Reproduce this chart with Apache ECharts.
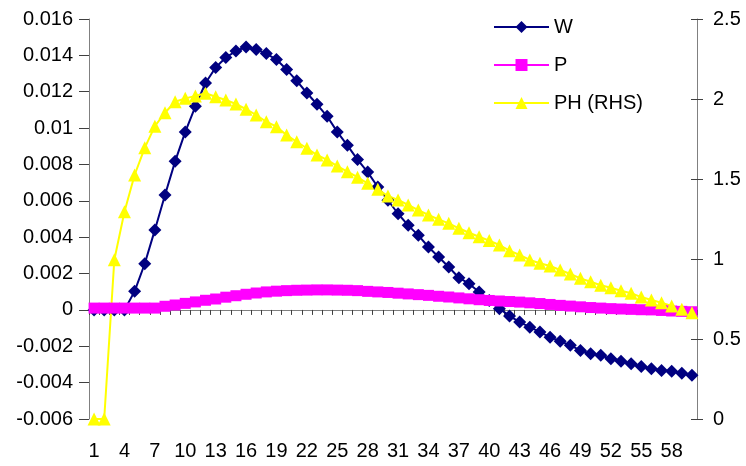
<!DOCTYPE html>
<html><head><meta charset="utf-8">
<script src="https://cdn.jsdelivr.net/npm/echarts@6/dist/echarts.min.js"></script>
<style>html,body{margin:0;padding:0;background:#fff}#c{width:746px;height:466px}</style>
</head><body><div id="c"></div>
<script>
const categories = ['1','2','3','4','5','6','7','8','9','10','11','12','13','14','15','16','17','18','19','20',
  '21','22','23','24','25','26','27','28','29','30','31','32','33','34','35','36','37','38','39','40',
  '41','42','43','44','45','46','47','48','49','50','51','52','53','54','55','56','57','58','59','60'];

const W = [0, 0, 0, 0, 0.00102, 0.00254, 0.0044, 0.00632, 0.00817, 0.00979,
  0.0112, 0.01248, 0.01333, 0.01388, 0.01424, 0.01446, 0.01432, 0.0141, 0.01377, 0.01322,
  0.0126, 0.01193, 0.01131, 0.01065, 0.00979, 0.00905, 0.00827, 0.00758, 0.00676, 0.00603,
  0.00529, 0.00465, 0.0041, 0.00346, 0.00291, 0.00236, 0.00177, 0.00144, 0.00098, 0.00052,
  0.00007, -0.00033, -0.00067, -0.00095, -0.00122, -0.0015, -0.00172, -0.00195, -0.00223, -0.00241,
  -0.0025, -0.00269, -0.00282, -0.00296, -0.00311, -0.00324, -0.00333, -0.00337, -0.00348, -0.0036];

const P = [0.0001, 0.0001, 0.0001, 0.0001, 0.0001, 0.0001, 0.0001, 0.0002, 0.00027, 0.00036,
  0.00044, 0.00053, 0.0006, 0.0007, 0.00078, 0.00086, 0.00093, 0.00099, 0.00103, 0.00106,
  0.00108, 0.00109, 0.0011, 0.0011, 0.00109, 0.00108, 0.00106, 0.00102, 0.00099, 0.00096,
  0.00092, 0.00088, 0.00084, 0.0008, 0.00075, 0.00071, 0.00066, 0.00061, 0.00056, 0.00052,
  0.00049, 0.00046, 0.00043, 0.00039, 0.00035, 0.0003, 0.00025, 0.00021, 0.00017, 0.00013,
  0.0001, 0.00007, 0.00005, 0.00003, 0.00001, 0, -0.00003, -0.00006, -0.00008, -0.0001];

const PH = [0, 0, 0.995, 1.295, 1.525, 1.695, 1.83, 1.914, 1.983, 2.004,
  2.019, 2.036, 2.014, 1.994, 1.969, 1.936, 1.9, 1.858, 1.827, 1.775,
  1.733, 1.692, 1.65, 1.619, 1.581, 1.546, 1.511, 1.473, 1.436, 1.394,
  1.369, 1.3375, 1.306, 1.275, 1.248, 1.223, 1.192, 1.164, 1.139, 1.115,
  1.0875, 1.052, 1.025, 0.994, 0.973, 0.956, 0.931, 0.906, 0.879, 0.858,
  0.836, 0.82, 0.802, 0.786, 0.762, 0.744, 0.727, 0.706, 0.686, 0.664];

const leftTicks = { min: -0.006, max: 0.016, interval: 0.002 };
const rightTicks = { min: 0, max: 2.5, interval: 0.5 };
const seriesNames = ['W', 'P', 'PH (RHS)'];

const FONT = "'Liberation Sans', Arial, sans-serif";
const AX = '#808080';
const chart = echarts.init(document.getElementById('c'), null, { renderer: 'canvas' });

function legendAt(name, top) {
  return {
    data: [name], left: 493, top: top, orient: 'vertical',
    itemWidth: 55, itemHeight: 15, itemGap: 5, padding: 0, selectedMode: false,
    textStyle: { fontFamily: FONT, fontSize: 20, color: '#000' }
  };
}

chart.setOption({
  animation: false,
  backgroundColor: '#fff',
  textStyle: { fontFamily: FONT },
  grid: { left: 89, top: 19, width: 608, height: 400, containLabel: false },
  legend: [legendAt(seriesNames[0], 17), legendAt(seriesNames[1], 55), legendAt(seriesNames[2], 93)],
  xAxis: [
    {
      type: 'category', data: categories, boundaryGap: true, position: 'bottom',
      axisLine: { show: false, onZero: false },
      axisTick: { show: false },
      axisLabel: { interval: 2, margin: 22, fontSize: 20, color: '#000', fontFamily: FONT },
      splitLine: { show: false }
    },
    {
      type: 'category', data: categories, boundaryGap: true, position: 'bottom',
      axisLine: { show: true, onZero: true, onZeroAxisIndex: 0, lineStyle: { color: AX, width: 1 } },
      axisTick: { show: true, interval: 0, length: 5, lineStyle: { color: '#404040' } },
      axisLabel: { show: false },
      splitLine: { show: false }
    }
  ],
  yAxis: [
    {
      type: 'value', position: 'left', min: leftTicks.min, max: leftTicks.max, interval: leftTicks.interval,
      axisLine: { show: true, onZero: false, lineStyle: { color: AX } },
      axisTick: { show: true, length: 10, lineStyle: { color: '#404040' } },
      axisLabel: { margin: 16, fontSize: 20, color: '#000', fontFamily: FONT,
        formatter: v => String(+v.toFixed(3)) },
      splitLine: { show: false }
    },
    {
      type: 'value', position: 'right', min: rightTicks.min, max: rightTicks.max, interval: rightTicks.interval,
      axisLine: { show: true, onZero: false, lineStyle: { color: AX } },
      axisTick: { show: true, length: 6, lineStyle: { color: '#404040' } },
      axisLabel: { margin: 16, fontSize: 20, color: '#000', fontFamily: FONT,
        formatter: v => String(+v.toFixed(1)) },
      splitLine: { show: false }
    },
    {
      type: 'value', position: 'right', min: rightTicks.min, max: rightTicks.max, interval: rightTicks.interval,
      axisLine: { show: false, onZero: false },
      axisTick: { show: true, inside: true, length: 6, lineStyle: { color: '#404040' } },
      axisLabel: { show: false },
      splitLine: { show: false }
    }
  ],
  series: [
    {
      name: seriesNames[0], type: 'line', data: W, xAxisIndex: 0, yAxisIndex: 0,
      symbol: 'diamond', symbolSize: 13, showAllSymbol: true, clip: false,
      color: '#000080', lineStyle: { color: '#000080', width: 2 },
      itemStyle: { color: '#000080' }
    },
    {
      name: seriesNames[1], type: 'line', data: P, xAxisIndex: 0, yAxisIndex: 0,
      symbol: 'rect', symbolSize: 11, showAllSymbol: true, clip: false,
      color: '#FF00FF', lineStyle: { color: '#FF00FF', width: 2 },
      itemStyle: { color: '#FF00FF' }
    },
    {
      name: seriesNames[2], type: 'line', data: PH, xAxisIndex: 0, yAxisIndex: 1,
      symbol: 'triangle', symbolSize: 13, showAllSymbol: true, clip: false,
      color: '#FFFF00', lineStyle: { color: '#FFFF00', width: 2 },
      itemStyle: { color: '#FFFF00' }
    }
  ]
});
</script>
</body></html>
